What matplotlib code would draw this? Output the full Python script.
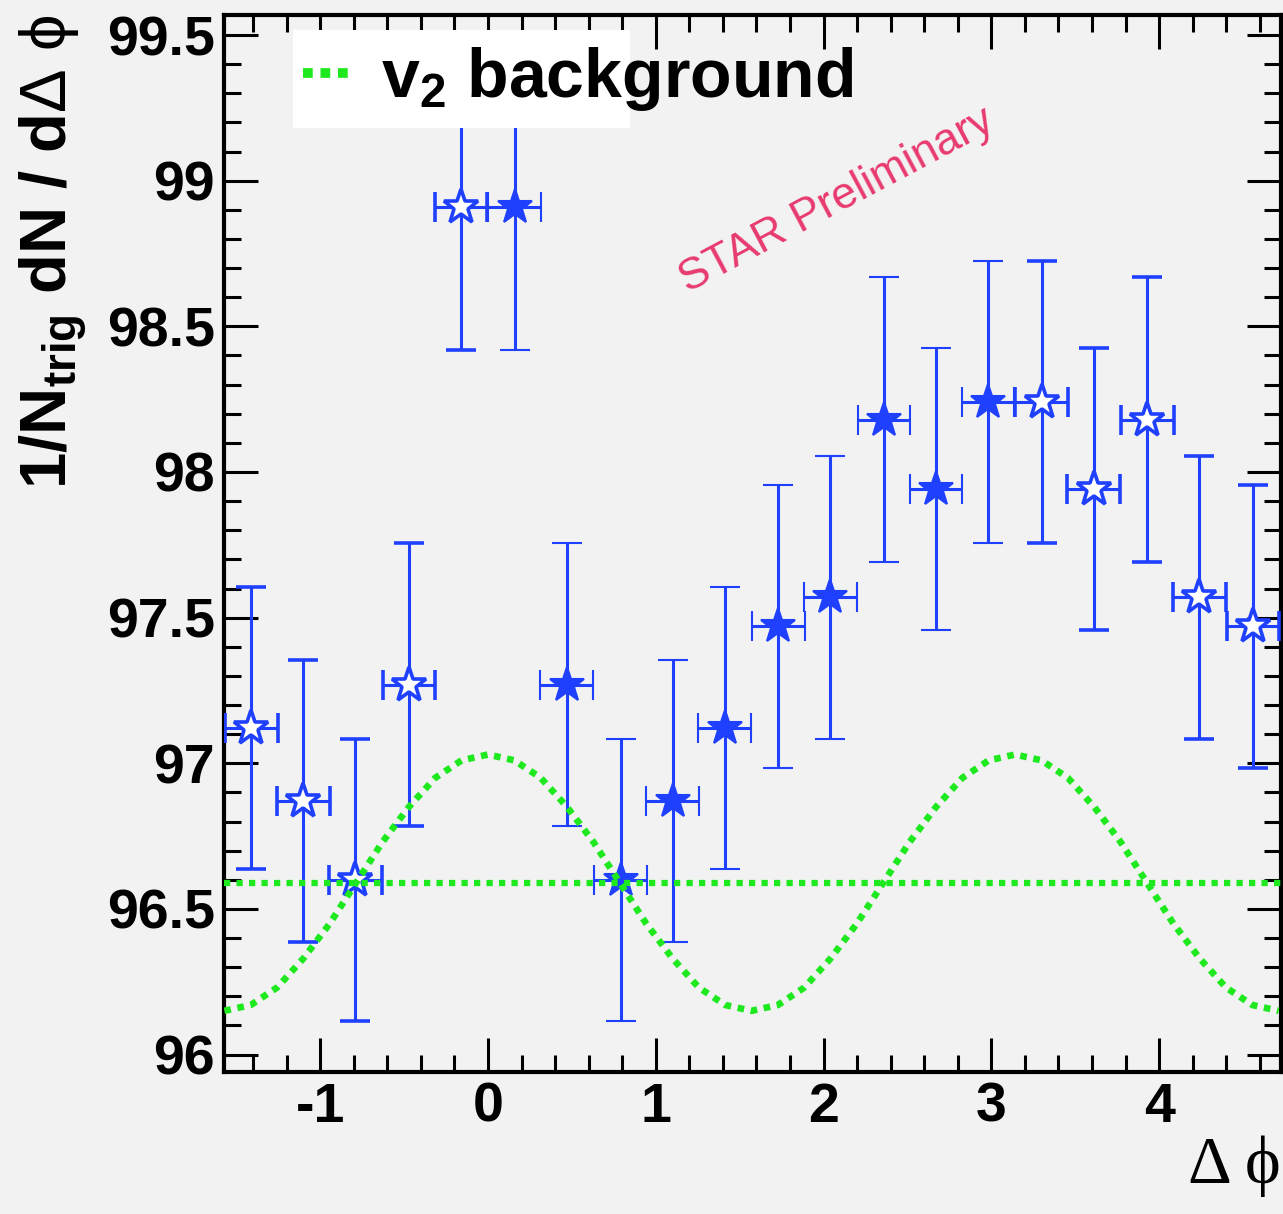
import numpy as np
import matplotlib
matplotlib.use('Agg')
import matplotlib.pyplot as plt
from matplotlib.lines import Line2D
from matplotlib.patches import Rectangle
from matplotlib.ticker import MultipleLocator, FuncFormatter

plt.rcParams['font.family'] = ['Liberation Sans', 'DejaVu Sans']
plt.rcParams['axes.unicode_minus'] = False
plt.rcParams['mathtext.fontset'] = 'custom'
plt.rcParams['mathtext.rm'] = 'Liberation Sans'
plt.rcParams['mathtext.it'] = 'Liberation Sans:italic'
plt.rcParams['mathtext.bf'] = 'Liberation Sans:bold'

# measured bins, 0 < dphi < pi (filled stars)
x_meas = [0.16, 0.47, 0.79, 1.10, 1.41, 1.73, 2.04, 2.36, 2.67, 2.98]
y_meas = [98.91, 97.27, 96.60, 96.87, 97.12, 97.47, 97.57, 98.18, 97.94, 98.24]
e_meas = [0.49, 0.487, 0.484, 0.485, 0.484, 0.485, 0.485, 0.489, 0.484, 0.484]

# reflected bins (open stars)
x_refl = [-1.41, -1.10, -0.79, -0.47, -0.16, 3.30, 3.61, 3.93, 4.24, 4.56]
y_refl = [97.12, 96.87, 96.60, 97.27, 98.91, 98.24, 97.94, 98.18, 97.57, 97.47]
e_refl = [0.484, 0.485, 0.484, 0.487, 0.49, 0.484, 0.484, 0.489, 0.485, 0.485]

bin_halfwidth = 0.157

# v2 background: flat level and modulated curve
v2_level = 96.59
v2_curve = [96.15, 96.17, 96.23, 96.33, 96.45, 96.59, 96.73, 96.85, 96.95, 97.01,
            97.03, 97.01, 96.95, 96.85, 96.73, 96.59, 96.45, 96.33, 96.23, 96.17,
            96.15, 96.17, 96.23, 96.33, 96.45, 96.59, 96.73, 96.85, 96.95, 97.01,
            97.03, 97.01, 96.95, 96.85, 96.73, 96.59, 96.45, 96.33, 96.23, 96.17,
            96.15]

blue = '#1f40ff'
green = '#1ee81e'
bg = '#f2f2f2'

fig = plt.figure(figsize=(12.83, 12.14), dpi=100, facecolor=bg)
ax = fig.add_axes([224/1283, 1 - 1072/1214, (1281 - 224)/1283, (1072 - 15)/1214])
ax.set_facecolor(bg)

ax.errorbar(x_meas, y_meas, xerr=bin_halfwidth, yerr=e_meas, fmt='*', ms=26,
            mfc=blue, mec=blue, mew=1.5, ecolor=blue, elinewidth=2.2,
            capsize=11, capthick=2.2, zorder=3)
ax.errorbar(x_refl, y_refl, xerr=bin_halfwidth, yerr=e_refl, fmt='*', ms=26,
            mfc='white', mec=blue, mew=2.6, ecolor=blue, elinewidth=2.2,
            capsize=11, capthick=2.2, zorder=3)

curve_x = np.linspace(-np.pi/2, 3*np.pi/2, len(v2_curve))
ax.plot(curve_x, v2_curve, color=green, lw=4.8, ls=(0, (1, 1)),
        dash_capstyle='butt', zorder=4)
ax.axhline(v2_level, color=green, lw=4.5, ls=(0, (1, 1)),
           dash_capstyle='butt', zorder=4)

ax.set_xlim(-1.573, 4.726)
ax.set_ylim(95.94, 99.569)

ax.xaxis.set_major_locator(MultipleLocator(1))
ax.xaxis.set_minor_locator(MultipleLocator(0.2))
ax.yaxis.set_major_locator(MultipleLocator(0.5))
ax.yaxis.set_minor_locator(MultipleLocator(0.1))
fmt = FuncFormatter(lambda v, p: f'{v:g}')
ax.xaxis.set_major_formatter(fmt)
ax.yaxis.set_major_formatter(fmt)

ax.tick_params(which='both', direction='in', top=True, right=True,
               width=2.2, color='black')
ax.tick_params(which='major', length=24.5, labelsize=40)
ax.tick_params(which='minor', length=12.2)
ax.tick_params(axis='y', which='major', pad=6.5)
ax.tick_params(axis='x', which='major', pad=7)
for lab in ax.get_xticklabels() + ax.get_yticklabels():
    lab.set_fontweight('bold')
for sp in ax.spines.values():
    sp.set_linewidth(3)

# legend: white box narrower than its text, as in the original
ax.add_patch(Rectangle((0.0653, 0.893), 0.3188, 0.0928, transform=ax.transAxes,
                       facecolor='white', edgecolor='none', zorder=5))
handle = Line2D([], [], color=green, lw=7, ls=(0, (1, 0.8)), dash_capstyle='butt')
leg = ax.legend([handle], [r'v$_\mathbf{2}$ background'], loc='upper left',
                bbox_to_anchor=(0.0653, 0.981), frameon=False,
                prop={'size': 49, 'weight': 'bold'}, borderpad=0.15,
                borderaxespad=0, handlelength=0.75, handletextpad=0.4)
leg.set_zorder(6)

ax.text(2.08, 98.93, 'STAR Preliminary', rotation=28, rotation_mode='anchor',
        ha='center', va='center', fontsize=32, color='#e83a6e', fontweight='normal')

fig.text(68/1283, 1 - 15/1214, r'1/N$_{\mathbf{trig}}$ dN / d$\Delta$ $\mathrm{\phi}$',
         rotation=90, rotation_mode='anchor', ha='right', va='baseline',
         fontsize=47, fontweight='bold')
fig.text(1281/1283, 1 - 1183/1214, 'Δ ϕ', ha='right', va='baseline',
         fontsize=49, family=['Liberation Serif', 'DejaVu Serif'])

fig.savefig('out.png', dpi=100, facecolor=bg)
